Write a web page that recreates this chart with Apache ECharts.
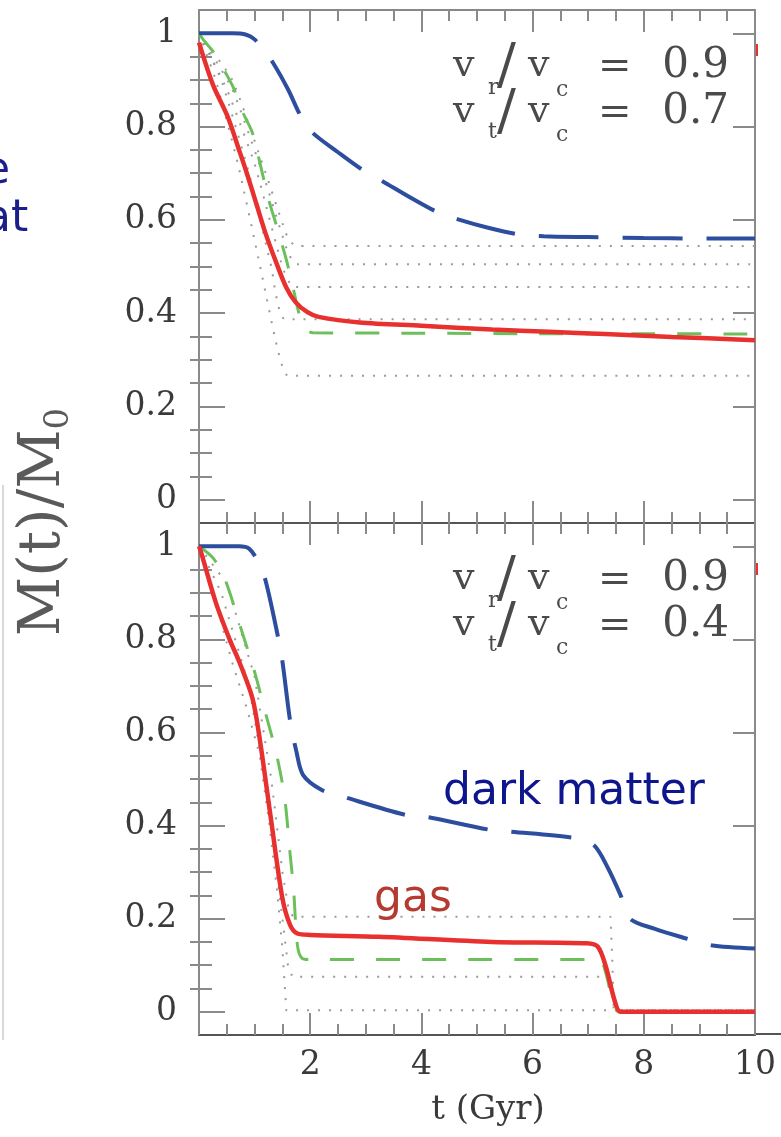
<!DOCTYPE html>
<html><head><meta charset="utf-8">
<script src="https://cdn.jsdelivr.net/npm/echarts@6/dist/echarts.min.js"></script>
<style>html,body{margin:0;padding:0;background:#fff}#c{width:781px;height:1137px}</style>
</head><body><div id="c"></div>
<script>
// ---------- tick labels ----------
const xTickLabels = [2, 4, 6, 8, 10];
const yTickLabels = [0, 0.2, 0.4, 0.6, 0.8, 1];
const yMinorTicks = [0.05,0.1,0.15,0.25,0.3,0.35,0.45,0.5,0.55,0.65,0.7,0.75,0.85,0.9,0.95];

// ---------- top panel (vr/vc = 0.9, vt/vc = 0.7) ----------
const topDM_t   = [0, 0.6, 0.85, 1.0, 1.15, 1.33, 1.6, 1.84, 2.04, 2.5, 2.93, 3.3, 3.8, 4.28, 4.66, 5.2, 5.74, 6.2, 7.0, 8.0, 9.0, 10];
const topDM     = [1.0, 1.0, 0.997, 0.987, 0.965, 0.937, 0.88, 0.82, 0.787, 0.745, 0.708, 0.683, 0.648, 0.617, 0.601, 0.583, 0.569, 0.565, 0.563, 0.561, 0.56, 0.56];
const topGas_t  = [0, 0.25, 0.52, 0.72, 0.86, 1.03, 1.2, 1.4, 1.57, 1.74, 1.95, 2.15, 2.89, 4.0, 5.27, 6.3, 7.3, 8.5, 10];
const topGas    = [0.98, 0.89, 0.82, 0.75, 0.70, 0.635, 0.57, 0.505, 0.455, 0.423, 0.402, 0.392, 0.38, 0.373, 0.365, 0.36, 0.355, 0.349, 0.342];
const topGrn_t  = [0, 0.08, 0.29, 0.48, 0.62, 0.79, 0.96, 1.1, 1.25, 1.4, 1.57, 1.7, 1.82, 1.92, 2.05, 4, 6, 8, 10];
const topGrn    = [1.0, 0.986, 0.955, 0.915, 0.883, 0.83, 0.787, 0.72, 0.645, 0.585, 0.515, 0.45, 0.39, 0.365, 0.358, 0.357, 0.356, 0.356, 0.355];
const topDot1_t = [0, 0.6, 1.2, 1.6, 1.75, 10];
const topDot1   = [1.0, 0.90, 0.70, 0.56, 0.544, 0.544];
const topDot2_t = [0, 0.6, 1.2, 1.6, 1.75, 10];
const topDot2   = [1.0, 0.88, 0.68, 0.53, 0.505, 0.505];
const topDot3_t = [0, 0.5, 1.0, 1.5, 1.7, 10];
const topDot3   = [1.0, 0.88, 0.72, 0.50, 0.456, 0.456];
const topDot4_t = [0, 0.4, 0.9, 1.3, 1.55, 10];
const topDot4   = [1.0, 0.90, 0.70, 0.50, 0.387, 0.387];
const topDot5_t = [0, 0.3, 0.7, 1.1, 1.4, 1.6, 10];
const topDot5   = [1.0, 0.90, 0.72, 0.50, 0.33, 0.266, 0.266];

// ---------- bottom panel (vr/vc = 0.9, vt/vc = 0.4) ----------
const botDM_t   = [0, 0.72, 0.9, 1.06, 1.2, 1.43, 1.5, 1.64, 1.75, 1.87, 2.2, 2.59, 3.71, 4.08, 5.23, 5.61, 6.76, 7.1, 7.35, 7.58, 7.75, 8.2, 8.66, 9.21, 10];
const botDM     = [1.0, 1.0, 0.995, 0.968, 0.925, 0.80, 0.753, 0.624, 0.56, 0.509, 0.477, 0.462, 0.423, 0.419, 0.391, 0.387, 0.373, 0.358, 0.31, 0.251, 0.2, 0.178, 0.161, 0.143, 0.136];
const botGas_t  = [0, 0.03, 0.3, 0.55, 0.72, 0.96, 1.09, 1.3, 1.5, 1.64, 1.77, 2.0, 3.23, 5.27, 6.97, 7.17, 7.31, 7.48, 7.58, 8, 10];
const botGas    = [1.0, 0.99, 0.88, 0.80, 0.753, 0.674, 0.588, 0.409, 0.244, 0.186, 0.168, 0.165, 0.161, 0.15, 0.147, 0.14, 0.10, 0.022, 0.0, 0.0, 0.0];
const botGrn_t  = [0, 0.25, 0.45, 0.79, 1.0, 1.2, 1.4, 1.54, 1.64, 1.7, 1.77, 1.85, 2.0, 7.2, 7.3, 7.45, 7.55, 10];
const botGrn    = [1.0, 0.975, 0.935, 0.81, 0.73, 0.64, 0.55, 0.46, 0.337, 0.265, 0.143, 0.115, 0.112, 0.112, 0.09, 0.02, 0.0, 0.0];
const botDot1_t = [0, 0.5, 1.0, 1.3, 1.5, 1.62, 1.7, 7.4, 7.43, 7.46, 10];
const botDot1   = [1.0, 0.92, 0.72, 0.50, 0.30, 0.215, 0.204, 0.204, 0.12, 0.003, 0.003];
const botDot2_t = [0, 0.4, 0.9, 1.25, 1.45, 1.6, 1.68, 7.42, 7.46, 10];
const botDot2   = [1.0, 0.90, 0.70, 0.45, 0.25, 0.10, 0.075, 0.075, 0.003, 0.003];
const botDot3_t = [0, 0.3, 0.59, 0.86, 1.09, 1.26, 1.4, 1.5, 1.57, 10];
const botDot3   = [1.0, 0.88, 0.753, 0.652, 0.552, 0.408, 0.265, 0.136, 0.003, 0.003];

function pairs(t, v) { return t.map((x, i) => [x, v[i]]); }

const GRID_L = 199, GRID_W = 556;
const grids = [
  { left: GRID_L, top: 10, width: GRID_W, height: 513 },
  { left: GRID_L, top: 523, width: GRID_W, height: 512 }
];
const tickCol = '#8a8a8a';
const labelFont = 'DejaVu Serif';

function yfmt(v) { return v === 0 ? '0' : (v === 1 ? '1' : v.toFixed(1)); }

const xAxes = [], yAxes = [];
[0, 1].forEach(g => {
  xAxes.push({
    type: 'value', gridIndex: g, position: 'bottom', min: 0, max: 10, interval: 2,
    axisLine: { show: true, onZero: false, lineStyle: { color: '#555', width: 2 } },
    axisTick: { show: true, inside: true, length: 22, lineStyle: { color: tickCol, width: 2 } },
    minorTick: { show: true, splitNumber: 4, length: 11, lineStyle: { color: tickCol, width: 2 } },
    axisLabel: g === 1 ? { show: true, customValues: xTickLabels, margin: 14, color: '#3a3a3a', fontFamily: labelFont, fontSize: 33 } : { show: false },
    splitLine: { show: false }
  });
  xAxes.push({
    type: 'value', gridIndex: g, position: 'top', min: 0, max: 10, interval: 2,
    axisLine: { show: true, onZero: false, lineStyle: { color: g === 0 ? '#888' : '#555', width: 2 } },
    axisTick: { show: true, inside: true, length: 22, lineStyle: { color: tickCol, width: 2 } },
    minorTick: { show: true, splitNumber: 4, length: 11, lineStyle: { color: tickCol, width: 2 } },
    axisLabel: { show: false }, splitLine: { show: false }
  });
  yAxes.push({
    type: 'value', gridIndex: g, position: 'left', min: -0.05, max: 1.05,
    axisLine: { show: true, onZero: false, lineStyle: { color: '#8a8a8a', width: 2 } },
    axisTick: { show: true, inside: true, length: 26, customValues: yTickLabels, lineStyle: { color: tickCol, width: 2 } },
    axisLabel: { show: true, customValues: yTickLabels, formatter: yfmt, margin: 22, color: '#3a3a3a', fontFamily: labelFont, fontSize: 33 },
    splitLine: { show: false }
  });
  yAxes.push({
    type: 'value', gridIndex: g, position: 'left', min: -0.05, max: 1.05,
    axisLine: { show: false },
    axisTick: { show: true, inside: true, length: 13, customValues: yMinorTicks, lineStyle: { color: tickCol, width: 2 } },
    axisLabel: { show: false }, splitLine: { show: false }
  });
  yAxes.push({
    type: 'value', gridIndex: g, position: 'right', min: -0.05, max: 1.05,
    axisLine: { show: true, onZero: false, lineStyle: { color: '#8a8a8a', width: 2 } },
    axisTick: { show: true, inside: true, length: 22, customValues: yTickLabels, lineStyle: { color: tickCol, width: 2 } },
    axisLabel: { show: false }, splitLine: { show: false }
  });
  yAxes.push({
    type: 'value', gridIndex: g, position: 'right', min: -0.05, max: 1.05,
    axisLine: { show: false },
    axisTick: { show: true, inside: true, length: 9, customValues: yMinorTicks, lineStyle: { color: tickCol, width: 2 } },
    axisLabel: { show: false }, splitLine: { show: false }
  });
});

function line(g, data, style, z, smooth) {
  return {
    type: 'line', xAxisIndex: g * 2, yAxisIndex: g * 4, data: data,
    showSymbol: false, symbol: 'none', smooth: smooth,
    lineStyle: style, z: z, silent: true, animation: false
  };
}
const dotStyle = { color: '#9a9a9a', width: 2, type: [2, 9] };
const blueStyle = { color: '#2d4e9e', width: 4, type: [60, 24] };
const grnStyle = { color: '#6cc05c', width: 3, type: [24, 22] };
const redStyle = { color: '#e8302e', width: 4.5, type: 'solid' };

const series = [
  line(0, pairs(topDot1_t, topDot1), dotStyle, 1, 0.15),
  line(0, pairs(topDot2_t, topDot2), dotStyle, 1, 0.15),
  line(0, pairs(topDot3_t, topDot3), dotStyle, 1, 0.15),
  line(0, pairs(topDot4_t, topDot4), dotStyle, 1, 0.15),
  line(0, pairs(topDot5_t, topDot5), dotStyle, 1, 0.15),
  line(0, pairs(topGrn_t, topGrn), grnStyle, 2, 0.3),
  line(0, pairs(topDM_t, topDM), blueStyle, 3, 0.3),
  line(0, pairs(topGas_t, topGas), redStyle, 4, 0.3),
  line(1, pairs(botDot1_t, botDot1), dotStyle, 1, false),
  line(1, pairs(botDot2_t, botDot2), dotStyle, 1, false),
  line(1, pairs(botDot3_t, botDot3), dotStyle, 1, false),
  line(1, pairs(botGrn_t, botGrn), grnStyle, 2, 0.3),
  line(1, pairs(botDM_t, botDM), blueStyle, 3, 0.3),
  line(1, pairs(botGas_t, botGas), redStyle, 4, 0.3)
];

function txt(x, y, s, size, color, font, align, extra) {
  return Object.assign({
    type: 'text', x: x, y: y, silent: true, z: 50,
    style: { text: s, fontSize: size, fill: color, fontFamily: font, textAlign: align || 'left', textVerticalAlign: 'middle' }
  }, extra || {});
}
const annCol = '#4a4a4a';
function ratioBlock(dy, v2sub, val1, val2) {
  const a = [];
  a.push(txt(453, dy + 66, 'v', 38, annCol, labelFont));
  a.push(txt(488, dy + 88, 'r', 22, annCol, labelFont));
  a.push(txt(497, dy + 68, '/', 56, annCol, labelFont));
  a.push(txt(528, dy + 66, 'v', 38, annCol, labelFont));
  a.push(txt(556, dy + 90, 'c', 22, annCol, labelFont));
  a.push(txt(598, dy + 68, '=', 40, annCol, labelFont));
  a.push(txt(729, dy + 66, val1, 42, annCol, labelFont, 'right'));
  a.push(txt(453, dy + 112, 'v', 38, annCol, labelFont));
  a.push(txt(488, dy + 132, v2sub, 22, annCol, labelFont));
  a.push(txt(497, dy + 114, '/', 56, annCol, labelFont));
  a.push(txt(528, dy + 112, 'v', 38, annCol, labelFont));
  a.push(txt(556, dy + 135, 'c', 22, annCol, labelFont));
  a.push(txt(598, dy + 114, '=', 40, annCol, labelFont));
  a.push(txt(729, dy + 112, val2, 42, annCol, labelFont, 'right'));
  return a;
}

const graphics = [].concat(
  ratioBlock(0, 't', '0.9', '0.7'),
  ratioBlock(513, 't', '0.9', '0.4'),
  [
    {
      type: 'text', x: 44, y: 522, rotation: Math.PI / 2, silent: true, z: 50,
      style: {
        text: '{m|M(t)/M}{s|0}', fontFamily: labelFont, fill: '#5a5a5a', textAlign: 'center', textVerticalAlign: 'middle',
        rich: { m: { fontSize: 58, fontFamily: labelFont, fill: '#5a5a5a', lineHeight: 64 },
                s: { fontSize: 34, fontFamily: labelFont, fill: '#5a5a5a', verticalAlign: 'bottom', lineHeight: 64 } }
      }
    },
    txt(488, 1110, 't (Gyr)', 34, '#3a3a3a', labelFont, 'center'),
    txt(443, 793, 'dark matter', 44, '#0d168c', 'DejaVu Sans', 'left'),
    txt(374, 900, 'gas', 44, '#b53a30', 'DejaVu Sans', 'left'),
    txt(-17, 172, 'e', 44, '#1a1f8a', 'DejaVu Sans', 'left'),
    txt(-16, 220, 'at', 44, '#1a1f8a', 'DejaVu Sans', 'left'),
    { type: 'line', silent: true, shape: { x1: 755, y1: 1034, x2: 781, y2: 1034 }, style: { stroke: '#555', lineWidth: 2 } },
    { type: 'line', silent: true, shape: { x1: 3, y1: 485, x2: 3, y2: 1040 }, style: { stroke: '#d8d8d8', lineWidth: 2 } },
    { type: 'line', silent: true, shape: { x1: 757, y1: 44, x2: 757, y2: 56 }, style: { stroke: '#e8302e', lineWidth: 2 } },
    { type: 'line', silent: true, shape: { x1: 757, y1: 563, x2: 757, y2: 575 }, style: { stroke: '#e8302e', lineWidth: 2 } }
  ]
);

const chart = echarts.init(document.getElementById('c'), null, { renderer: 'canvas' });
chart.setOption({
  animation: false,
  backgroundColor: '#fff',
  grid: grids,
  xAxis: xAxes,
  yAxis: yAxes,
  series: series,
  graphic: graphics
});
</script>
</body></html>
